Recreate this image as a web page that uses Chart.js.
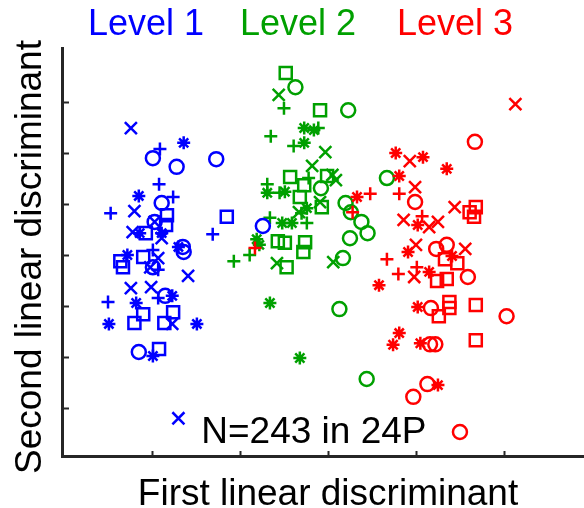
<!DOCTYPE html>
<html>
<head>
<meta charset="utf-8">
<script src="https://cdn.jsdelivr.net/npm/chart.js@4/dist/chart.umd.min.js"></script>
<style>
  html, body { margin: 0; padding: 0; background: #fff; }
  canvas { display: block; }
</style>
</head>
<body>
<canvas id="ldaChart" width="584" height="508"></canvas>
<script>
// groups shown in the header, axis names and the footnote inside the axes
const levelNames = ["Level 1", "Level 2", "Level 3"];
const levelColors = ["#0000ff", "#00a000", "#ff0000"];
const xTitle = "First linear discriminant";
const yTitle = "Second linear discriminant";
const noteText = "N=243 in 24P";

// tick positions (the axes carry no tick labels)
const xTicks = [1, 2, 3, 4, 5];
const yTicks = [1, 2, 3, 4, 5, 6, 7];

// Level 1 (blue), [first, second] discriminant scores per marker type
const level1Cross = [[0.76, 6.49], [0.80, 4.86], [0.78, 4.45], [1.11, 4.33], [1.07, 3.94], [0.98, 3.76],
  [1.41, 3.59], [0.76, 3.35], [0.99, 3.37], [1.23, 2.65], [1.30, 0.80], [1.03, 4.65]];
const level1Plus = [[1.09, 6.08], [1.08, 5.39], [1.24, 5.14], [0.53, 4.82], [1.69, 4.41], [1.01, 4.10],
  [1.07, 3.71], [1.07, 3.16], [0.50, 3.08]];
const level1Star = [[1.36, 6.20], [0.85, 5.16], [0.86, 4.43], [1.11, 4.43], [1.30, 4.16], [0.72, 4.00],
  [1.23, 3.20], [0.82, 3.06], [0.51, 2.65], [1.51, 2.65], [1.01, 2.02]];
const level1Circle = [[1.01, 5.90], [1.28, 5.73], [1.73, 5.88], [1.11, 5.02], [1.03, 4.65], [1.35, 4.16],
  [1.36, 4.06], [1.01, 3.76], [1.15, 3.20], [0.85, 2.10], [2.26, 4.57]];
const level1Square = [[1.17, 4.78], [1.16, 4.59], [1.85, 4.75], [0.93, 4.43], [0.64, 3.88], [0.67, 3.76],
  [0.90, 3.96], [0.90, 2.84], [1.24, 2.88], [0.80, 2.67], [1.14, 2.67], [1.08, 2.16]];

// Level 2 (green)
const level2Cross = [[2.44, 7.14], [2.97, 6.02], [2.82, 5.75], [3.09, 5.47], [3.05, 5.57], [2.91, 5.04],
  [2.67, 4.84], [2.42, 3.84], [3.06, 3.86]];
const level2Plus = [[2.50, 6.88], [2.89, 6.49], [2.35, 6.33], [2.61, 6.14], [2.78, 5.51], [2.31, 5.39],
  [2.45, 5.22], [2.70, 4.82], [2.34, 4.73], [2.76, 4.63], [1.93, 3.88], [2.11, 4.00]];
const level2Star = [[2.73, 6.49], [2.84, 6.45], [2.73, 6.20], [2.31, 5.22], [2.51, 5.24], [2.76, 4.92],
  [2.48, 4.63], [2.59, 4.63], [2.19, 4.31], [2.22, 4.20], [2.34, 3.06], [2.68, 1.98]];
const level2Circle = [[2.63, 7.29], [3.23, 6.84], [2.92, 5.31], [3.20, 5.02], [3.26, 4.84], [3.38, 4.65],
  [3.45, 4.43], [3.25, 4.33], [3.17, 3.94], [3.13, 2.94], [3.44, 1.57], [3.67, 5.51]];
const level2Square = [[2.52, 7.57], [2.91, 6.84], [2.57, 5.53], [2.99, 5.55], [2.73, 5.37], [2.68, 5.14],
  [2.93, 4.94], [2.43, 4.27], [2.51, 4.24], [2.74, 4.25], [2.72, 4.06], [2.53, 3.76]];

// Level 3 (red)
const level3Cross = [[5.13, 6.96], [3.93, 5.84], [3.99, 5.33], [4.44, 4.94], [3.86, 4.69], [4.15, 4.55],
  [4.25, 4.65], [4.00, 4.20], [4.56, 4.12], [3.98, 3.57]];
const level3Plus = [[3.48, 5.20], [3.81, 5.20], [3.28, 4.84], [4.07, 4.76], [2.17, 4.14], [3.67, 3.92],
  [3.80, 3.63], [4.01, 3.76]];
const level3Star = [[3.77, 6.00], [4.08, 5.92], [4.35, 5.69], [3.81, 5.55], [3.33, 5.14], [4.02, 4.59],
  [3.91, 4.06], [4.41, 3.98], [4.15, 3.67], [3.58, 3.41], [4.02, 2.98], [3.81, 2.47], [3.74, 2.24],
  [4.05, 2.27], [4.25, 1.45]];
const level3Circle = [[4.67, 6.22], [3.99, 5.04], [4.23, 4.12], [4.35, 4.20], [4.59, 3.57], [4.17, 2.96],
  [5.03, 2.80], [4.16, 2.25], [4.22, 2.25], [4.13, 1.47], [3.97, 1.22], [4.50, 0.53]];
const level3Square = [[4.68, 4.94], [4.66, 4.75], [4.61, 4.84], [4.33, 3.92], [4.47, 3.84], [4.24, 3.49],
  [4.35, 3.53], [4.38, 3.08], [4.38, 2.96], [4.26, 2.80], [4.68, 3.02], [4.68, 2.33]];

const FONT = '"Liberation Sans", Arial, Helvetica, sans-serif';
const AXIS_COLOR = "#262626";

// marker look for each symbol type
const markers = {
  cross: { pointStyle: "crossRot", radius: 8.5 },
  plus: { pointStyle: "cross", radius: 6.5 },
  star: { pointStyle: "star", radius: 6.5 },
  circle: { pointStyle: "circle", radius: 7 },
  square: { pointStyle: "rect", radius: 8.5 },
};

const groups = [
  { level: 2, sets: { cross: level3Cross, plus: level3Plus, star: level3Star, circle: level3Circle, square: level3Square } },
  { level: 0, sets: { cross: level1Cross, plus: level1Plus, star: level1Star, circle: level1Circle, square: level1Square } },
  { level: 1, sets: { cross: level2Cross, plus: level2Plus, star: level2Star, circle: level2Circle, square: level2Square } },
];

const datasets = [];
groups.forEach((group) => {
  Object.keys(group.sets).forEach((kind) => {
    datasets.push({
      label: levelNames[group.level] + " " + kind,
      data: group.sets[kind].map((p) => ({ x: p[0], y: p[1] })),
      pointStyle: markers[kind].pointStyle,
      pointRadius: markers[kind].radius,
      pointBorderWidth: 2.5,
      pointBorderColor: levelColors[group.level],
      pointBackgroundColor: "rgba(0,0,0,0)",
      showLine: false,
    });
  });
});

// inward tick marks, level header, axis names and the N note
const decorations = {
  id: "decorations",
  afterDraw(chart) {
    const { ctx, chartArea, scales } = chart;
    ctx.save();
    ctx.strokeStyle = AXIS_COLOR;
    ctx.lineWidth = 2;
    yTicks.forEach((v) => {
      const py = Math.round(scales.y.getPixelForValue(v)) + 0.5;
      ctx.beginPath();
      ctx.moveTo(chartArea.left, py);
      ctx.lineTo(chartArea.left + 7, py);
      ctx.stroke();
    });
    xTicks.forEach((v) => {
      const px = Math.round(scales.x.getPixelForValue(v)) + 0.5;
      ctx.beginPath();
      ctx.moveTo(px, chartArea.bottom);
      ctx.lineTo(px, chartArea.bottom - 5);
      ctx.stroke();
    });

    ctx.font = "37px " + FONT;
    ctx.fillStyle = "#000";
    ctx.textAlign = "center";
    ctx.textBaseline = "middle";
    ctx.fillText(noteText, scales.x.getPixelForValue(2.84), scales.y.getPixelForValue(0.51));

    ctx.textBaseline = "alphabetic";
    ctx.fillText(xTitle, 328, 505);

    ctx.save();
    ctx.translate(41, 257);
    ctx.rotate(-Math.PI / 2);
    ctx.fillText(yTitle, 0, 0);
    ctx.restore();

    ctx.font = "36px " + FONT;
    ctx.textAlign = "left";
    const headerX = [88, 240, 397];
    levelNames.forEach((name, i) => {
      ctx.fillStyle = levelColors[i];
      ctx.fillText(name, headerX[i], 35);
    });
    ctx.restore();
  },
};

new Chart(document.getElementById("ldaChart"), {
  type: "scatter",
  data: { datasets: datasets },
  options: {
    responsive: false,
    animation: false,
    devicePixelRatio: 1,
    events: [],
    layout: { autoPadding: false, padding: { left: 62, top: 48, right: 0, bottom: 52 } },
    plugins: {
      legend: { display: false },
      tooltip: { enabled: false },
    },
    scales: {
      x: {
        type: "linear",
        min: -0.023,
        max: 5.91,
        grid: { display: false, drawTicks: false },
        border: { display: true, color: AXIS_COLOR, width: 3 },
        ticks: { display: false },
      },
      y: {
        type: "linear",
        min: 0.06,
        max: 8.06,
        grid: { display: false, drawTicks: false },
        border: { display: true, color: AXIS_COLOR, width: 3 },
        ticks: { display: false },
      },
    },
  },
  plugins: [decorations],
});
</script>
</body>
</html>
